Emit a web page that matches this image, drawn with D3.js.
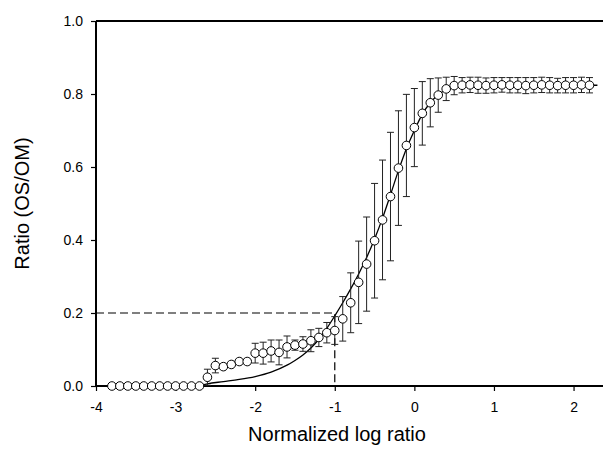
<!DOCTYPE html>
<html>
<head>
<meta charset="utf-8">
<script src="https://cdn.jsdelivr.net/npm/d3@7"></script>
<style>
    body { margin: 0; background: #fff; }
    svg { display: block; }
    .tickLabel { font-family: "Liberation Sans", Arial, sans-serif; font-size: 14px; fill: #000; }
    .axisTitle { font-family: "Liberation Sans", Arial, sans-serif; font-size: 20px; fill: #000; }
</style>
</head>
<body>
<div id="ratioChart"></div>
<script>
// x positions of the measured points (normalized log ratio)
const xValues = [-3.8, -3.7, -3.6, -3.5, -3.4, -3.3, -3.2, -3.1, -3.0, -2.9, -2.8, -2.7,
    -2.6, -2.5, -2.4, -2.3, -2.2, -2.1, -2.0, -1.9, -1.8, -1.7, -1.6, -1.5, -1.4, -1.3,
    -1.2, -1.1, -1.0, -0.9, -0.8, -0.7, -0.6, -0.5, -0.4, -0.3, -0.2, -0.1, 0.0, 0.1,
    0.2, 0.3, 0.4, 0.5, 0.6, 0.7, 0.8, 0.9, 1.0, 1.1, 1.2, 1.3, 1.4, 1.5, 1.6, 1.7,
    1.8, 1.9, 2.0, 2.1, 2.2];

// mean ratio OS/OM
const ratioValues = [0, 0, 0, 0, 0, 0, 0, 0, 0, 0, 0, 0,
    0.024, 0.056, 0.053, 0.059, 0.067, 0.067, 0.090, 0.090, 0.096, 0.092, 0.107, 0.112, 0.115, 0.124,
    0.133, 0.146, 0.152, 0.184, 0.228, 0.284, 0.334, 0.398, 0.455, 0.519, 0.597, 0.659, 0.708, 0.747,
    0.776, 0.797, 0.814, 0.823, 0.824, 0.825, 0.824, 0.823, 0.824, 0.825, 0.824, 0.824, 0.823, 0.824,
    0.825, 0.824, 0.823, 0.824, 0.824, 0.825, 0.824];

// half length of the error bars
const errorValues = [0, 0, 0, 0, 0, 0, 0, 0, 0, 0, 0, 0,
    0.022, 0.020, 0.007, 0.006, 0.006, 0.007, 0.027, 0.030, 0.030, 0.034, 0.030, 0.014, 0.020, 0.030,
    0.025, 0.028, 0.038, 0.061, 0.082, 0.113, 0.129, 0.157, 0.164, 0.176, 0.157, 0.140, 0.107, 0.087,
    0.066, 0.047, 0.032, 0.025, 0.021, 0.021, 0.022, 0.021, 0.021, 0.020, 0.021, 0.021, 0.022, 0.021,
    0.021, 0.021, 0.020, 0.021, 0.021, 0.021, 0.021];

// fitted curve
const fitX = [-2.7, -2.6, -2.4, -2.2, -2.0, -1.8, -1.6, -1.5, -1.4, -1.3, -1.2, -1.1, -1.0, -0.9,
    -0.8, -0.7, -0.6, -0.5, -0.4, -0.3, -0.2, -0.1, 0.0, 0.1, 0.2, 0.3, 0.4, 0.5, 0.6, 0.8, 1.2, 2.3];
const fitY = [0, 0.006, 0.012, 0.018, 0.026, 0.038, 0.057, 0.070, 0.085, 0.104, 0.128, 0.158, 0.192, 0.228,
    0.266, 0.307, 0.352, 0.403, 0.460, 0.524, 0.590, 0.650, 0.700, 0.745, 0.776, 0.798, 0.812, 0.820,
    0.823, 0.824, 0.824, 0.824];

// dashed guide to the 0.2 ratio
const guideX = -1;
const guideY = 0.2;

const xTicks = [-4, -3, -2, -1, 0, 1, 2];
const yTicks = [0, 0.2, 0.4, 0.6, 0.8, 1.0];

let size = {w: 603, h: 450};
let margin = {left: 96, top: 21, bottom: 64};

let svg = d3.select('#ratioChart')
    .append('svg')
    .attr('width', size.w)
    .attr('height', size.h);

let xScale = d3.scaleLinear()
    .domain([-4, 2.37])
    .range([margin.left, size.w]);

let yScale = d3.scaleLinear()
    .domain([0, 1])
    .range([size.h - margin.bottom, margin.top]);

let points = xValues.map((x, i) => ({x: x, y: ratioValues[i], e: errorValues[i]}));

//AXES
let xAxis = svg.append('g')
    .attr('transform', `translate(0, ${yScale(0)})`)
    .call(d3.axisBottom(xScale).tickValues(xTicks).tickSize(5).tickPadding(11).tickFormat(d => String(d)));

let yAxis = svg.append('g')
    .attr('transform', `translate(${xScale(-4)}, 0)`)
    .call(d3.axisLeft(yScale).tickValues(yTicks).tickSize(5).tickPadding(8).tickFormat(d => d.toFixed(1)));

[xAxis, yAxis].forEach(a => {
    a.select('.domain').remove();
    a.selectAll('.tick line').attr('stroke', '#000').attr('stroke-width', 1.2);
    a.selectAll('.tick text').attr('class', 'tickLabel').attr('font-family', null).attr('font-size', null);
});

// frame: left, bottom and top lines
svg.append('line')
    .attr('x1', xScale(-4)).attr('x2', xScale(-4))
    .attr('y1', yScale(1)).attr('y2', yScale(0))
    .attr('stroke', '#000').attr('stroke-width', 2);
svg.append('line')
    .attr('x1', xScale(-4)).attr('x2', size.w)
    .attr('y1', yScale(0)).attr('y2', yScale(0))
    .attr('stroke', '#000').attr('stroke-width', 2);
svg.append('line')
    .attr('x1', xScale(-4)).attr('x2', size.w)
    .attr('y1', yScale(1)).attr('y2', yScale(1))
    .attr('stroke', '#000').attr('stroke-width', 2);

// dashed guides
svg.append('path')
    .attr('d', `M${xScale(-4)},${yScale(guideY)}H${xScale(guideX)}V${yScale(0)}`)
    .attr('fill', 'none')
    .attr('stroke', '#000')
    .attr('stroke-width', 1.2)
    .attr('stroke-dasharray', '8,4');

// fitted curve
let line = d3.line()
    .x((d, i) => xScale(d))
    .y((d, i) => yScale(fitY[i]))
    .curve(d3.curveMonotoneX);

svg.append('path')
    .datum(fitX)
    .attr('d', line)
    .attr('fill', 'none')
    .attr('stroke', '#000')
    .attr('stroke-width', 1.3);

// error bars
let capW = 3.5;
let bars = svg.append('g')
    .selectAll('g')
    .data(points.filter(d => d.e > 0))
    .join('g')
    .attr('stroke', '#222')
    .attr('stroke-width', 1);

bars.append('line')
    .attr('x1', d => xScale(d.x)).attr('x2', d => xScale(d.x))
    .attr('y1', d => yScale(d.y - d.e)).attr('y2', d => yScale(d.y + d.e));
bars.append('line')
    .attr('x1', d => xScale(d.x) - capW).attr('x2', d => xScale(d.x) + capW)
    .attr('y1', d => yScale(d.y + d.e)).attr('y2', d => yScale(d.y + d.e));
bars.append('line')
    .attr('x1', d => xScale(d.x) - capW).attr('x2', d => xScale(d.x) + capW)
    .attr('y1', d => yScale(d.y - d.e)).attr('y2', d => yScale(d.y - d.e));

// points
svg.append('g')
    .selectAll('circle')
    .data(points)
    .join('circle')
    .attr('cx', d => xScale(d.x))
    .attr('cy', d => yScale(d.y))
    .attr('r', 4.3)
    .attr('fill', '#fff')
    .attr('stroke', '#000')
    .attr('stroke-width', 1);

// titles
svg.append('text')
    .attr('class', 'axisTitle')
    .attr('x', 337)
    .attr('y', 441)
    .attr('text-anchor', 'middle')
    .text('Normalized log ratio');

svg.append('text')
    .attr('class', 'axisTitle')
    .attr('transform', `translate(29, ${yScale(0.5)}) rotate(-90)`)
    .attr('text-anchor', 'middle')
    .text('Ratio (OS/OM)');
</script>
</body>
</html>
